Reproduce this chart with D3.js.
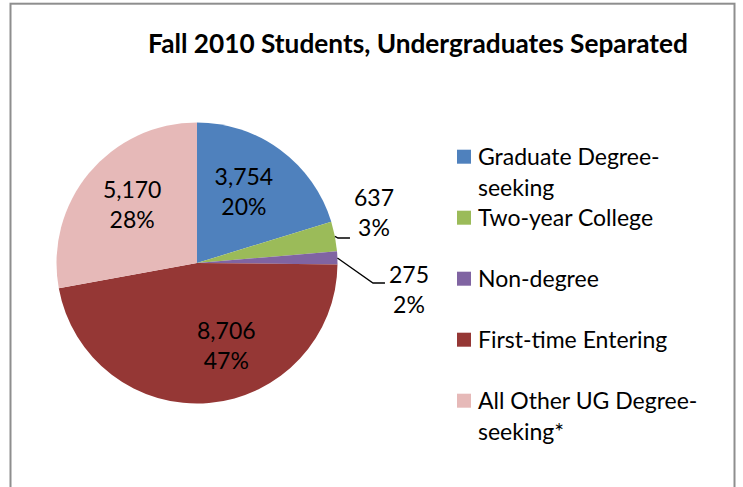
<!DOCTYPE html>
<html lang="en">
<head>
<meta charset="UTF-8" />
<title>Fall 2010 Students, Undergraduates Separated</title>
<style>
  body { margin: 0; background: #fff; }
  svg text { font-family: Lato, "Liberation Sans", sans-serif; fill: #000; }
</style>
</head>
<body>
<svg id="svg" width="743" height="487"></svg>
<script src="https://d3js.org/d3.v7.min.js"></script>
<script>
// Data
const categories = [
  'Graduate Degree-seeking',
  'Two-year College',
  'Non-degree',
  'First-time Entering',
  'All Other UG Degree-seeking*'
];
const students = [3754, 637, 275, 8706, 5170];
const percentLabels = ['20%', '3%', '2%', '47%', '28%'];
const title = 'Fall 2010 Students, Undergraduates Separated';

// Layout / style
const width = 743;
const height = 487;
const colors = ['#4F81BD', '#9BBB59', '#8064A2', '#953735', '#E6B9B8'];
const cx = 197, cy = 263, radius = 140.5;
const labelFont = 23;
const lineGap = 30;
// label placement: inside labels sit at 0.61r, small ones outside with a leader
const inside = [true, false, false, true, true];
const labelShift = [[-4, -2], [0, 0], [0, 0], [22, -3], [1, -3]];
const outsidePos = [null, [374, 213], [409, 290], null, null]; // tuned to match
const leaderDy = [0, 25, -7, 0, 0];

const svg = d3.select('#svg');

// chart border
svg.append('rect')
  .attr('x', 10.5).attr('y', 3.7)
  .attr('width', 724).attr('height', 600)
  .attr('fill', '#fff')
  .attr('stroke', '#8e8e8e')
  .attr('stroke-width', 2);

// title, fitted to the width it has in the picture
const titleText = svg.append('text')
  .attr('x', 418).attr('y', 53)
  .attr('text-anchor', 'middle')
  .style('font-weight', 'bold')
  .style('font-size', '24px')
  .text(title);
const tw = titleText.node().getComputedTextLength();
titleText.style('font-size', (24 * 540 / tw) + 'px');

// pie
const pie = d3.pie().sort(null).value(d => d);
const arcs = pie(students);
const arc = d3.arc().innerRadius(0).outerRadius(radius);
const labelArc = d3.arc().innerRadius(radius * 0.61).outerRadius(radius * 0.61);

const g = svg.append('g').attr('transform', `translate(${cx},${cy})`);
g.selectAll('path.slice')
  .data(arcs)
  .join('path')
  .attr('class', 'slice')
  .attr('d', arc)
  .attr('fill', (d, i) => colors[i]);

// data labels
const fmt = d3.format(',');
arcs.forEach((d, i) => {
  let x, y;
  if (inside[i]) {
    const c = labelArc.centroid(d);
    x = c[0] + labelShift[i][0];
    y = c[1] + labelShift[i][1];
  } else {
    x = outsidePos[i][0] - cx;
    y = outsidePos[i][1] - cy;
  }
  const t = g.append('text')
    .attr('text-anchor', 'middle')
    .style('font-size', labelFont + 'px');
  t.append('tspan').attr('x', x).attr('y', y - lineGap / 2).attr('dy', '0.36em').text(fmt(students[i]));
  t.append('tspan').attr('x', x).attr('y', y + lineGap / 2).attr('dy', '0.36em').text(percentLabels[i]);

  if (!inside[i]) {
    const w = t.node().getBBox().width;
    const a = (d.startAngle + d.endAngle) / 2;
    const edge = [Math.sin(a) * radius, -Math.cos(a) * radius];
    const endX = x - w / 2 - 4;
    const endY = y + leaderDy[i];
    g.append('path')
      .attr('d', d3.line()([edge, [endX - 12, endY], [endX, endY]]))
      .attr('fill', 'none')
      .attr('stroke', '#000')
      .attr('stroke-width', 1.3);
  }
});

// legend
const legendX = 457, legendY = 156.7, legendPitch = 61, legendLine = 31, legendMax = 245;
const legend = svg.append('g');

function wrapLines(label, textEl) {
  const tokens = label.match(/[^\s-]+-?\s?|\s/g);
  const lines = [];
  let cur = '';
  tokens.forEach(tok => {
    const test = cur + tok;
    textEl.text(test.trimEnd());
    if (cur && textEl.node().getComputedTextLength() > legendMax) {
      lines.push(cur.trimEnd());
      cur = tok;
    } else {
      cur = test;
    }
  });
  lines.push(cur.trimEnd());
  return lines;
}

categories.forEach((name, i) => {
  const y = legendY + i * legendPitch;
  legend.append('rect')
    .attr('x', legendX).attr('y', y - 7)
    .attr('width', 14).attr('height', 14)
    .attr('fill', colors[i]);
  const t = legend.append('text')
    .attr('x', legendX + 21)
    .style('font-size', labelFont + 'px');
  const lines = wrapLines(name, t);
  t.text(null);
  lines.forEach((line, j) => {
    t.append('tspan')
      .attr('x', legendX + 21)
      .attr('y', y + j * legendLine)
      .attr('dy', '0.36em')
      .text(line);
  });
});
</script>
</body>
</html>
